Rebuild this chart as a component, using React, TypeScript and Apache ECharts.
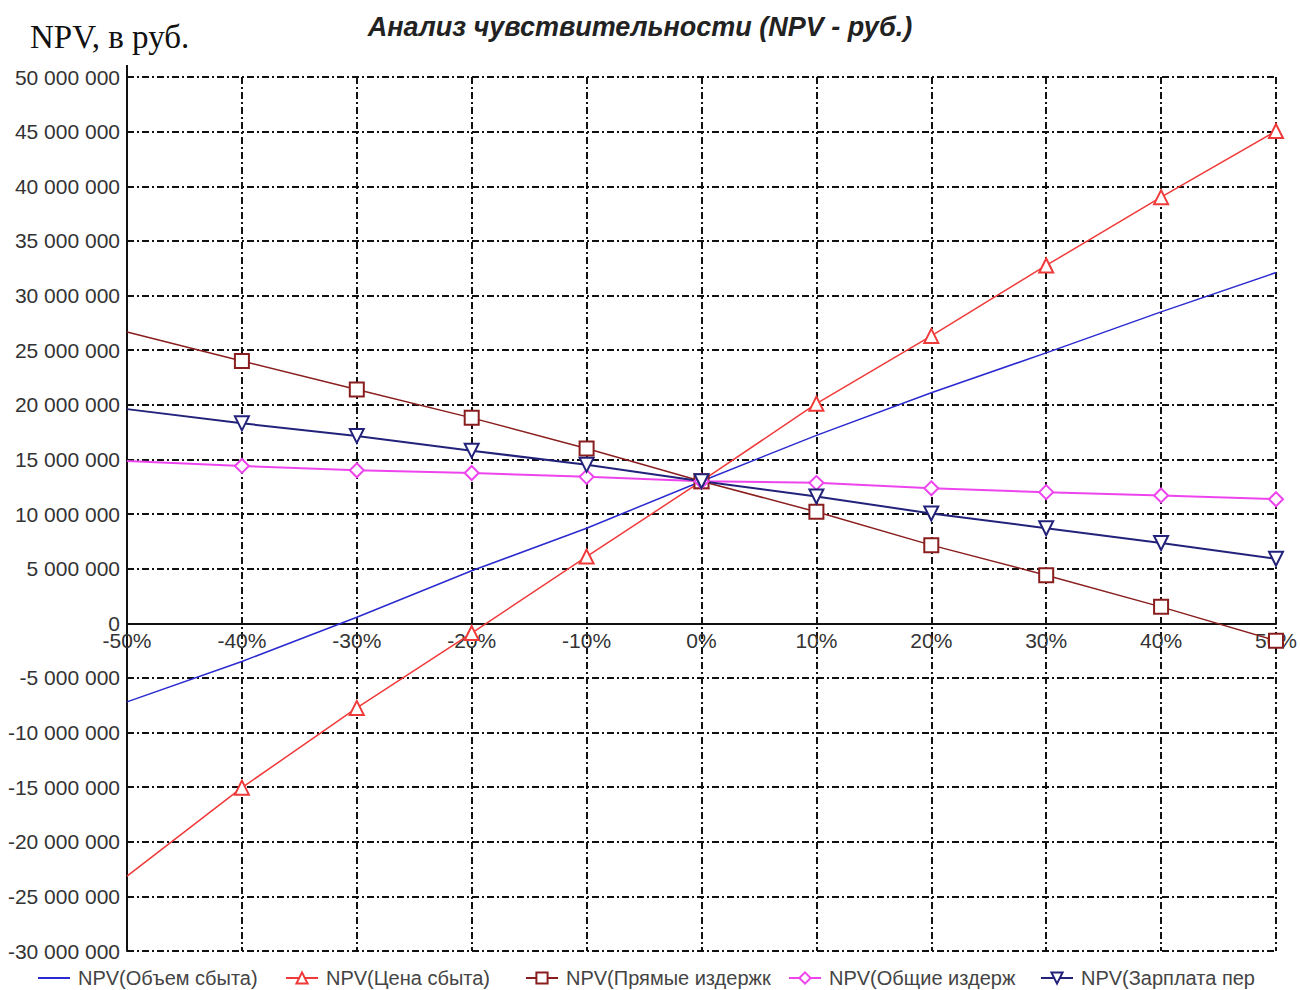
import React, { useEffect, useRef } from "react";
import * as echarts from "echarts";

// Change of the parameter, %
const changes = [-50, -40, -30, -20, -10, 0, 10, 20, 30, 40, 50];

// NPV, rub., for each parameter change
const npvSalesVolume = [-7200000, -3500000, 550000, 4800000, 8700000, 13000000, 17200000, 21100000, 24750000, 28500000, 32100000];
const npvSalesPrice = [-23150000, -15050000, -7750000, -900000, 6100000, 13000000, 20100000, 26300000, 32750000, 39000000, 45050000];
const npvDirectCosts = [26650000, 24000000, 21400000, 18800000, 16000000, 13000000, 10200000, 7150000, 4400000, 1500000, -1600000];
const npvOverheads = [14850000, 14400000, 14000000, 13750000, 13400000, 13000000, 12850000, 12350000, 12000000, 11700000, 11350000];
const npvWages = [19600000, 18300000, 17150000, 15800000, 14500000, 13000000, 11600000, 10050000, 8700000, 7350000, 5900000];

const seriesNames = [
  "NPV(Объем сбыта)",
  "NPV(Цена сбыта)",
  "NPV(Прямые издержк",
  "NPV(Общие издерж",
  "NPV(Зарплата пер",
];

const yTicks = { min: -30000000, max: 50000000, interval: 5000000 };
const xTicks = { min: -50, max: 50, interval: 10 };

// first point of every curve is drawn without a marker
const pairs = (ys: number[]) =>
  changes.map((x, i) => (i === 0 ? { value: [x, ys[i]], symbol: "none" } : { value: [x, ys[i]] }));

const fmtNum = (v: number) => {
  const s = Math.abs(v).toString().replace(/\B(?=(\d{3})+(?!\d))/g, " ");
  return (v < 0 ? "-" : "") + s;
};

const FONT = 'Arial, "Liberation Sans", sans-serif';

const GRID = { left: 127, right: 23, top: 77, bottom: 39 };
const W = 1300;
const H = 990;

export default function App() {
  const ref = useRef<HTMLDivElement>(null);

  useEffect(() => {
    if (!ref.current) return;
    const chart = echarts.init(ref.current, undefined, { renderer: "svg" });

    const lineSeries = (name: string, data: number[], color: string, symbol: string, width: number, rotate = 0) => ({
      name,
      type: "line",
      data: pairs(data),
      symbol,
      symbolSize: 14,
      symbolRotate: rotate,
      showSymbol: symbol !== "none",
      color,
      lineStyle: { color, width },
      itemStyle: { color, borderWidth: 1.5 },
      z: 3,
    });

    // x axis sits on the zero line of the value axis
    const plotH = H - GRID.top - GRID.bottom;
    const zeroY = GRID.top + (plotH * yTicks.max) / (yTicks.max - yTicks.min);
    const xAxisOffset = -(H - GRID.bottom - zeroY);

    const legendPos = [38, 285, 525, 788, 1040];

    chart.setOption({
      animation: false,
      backgroundColor: "#ffffff",
      grid: { ...GRID, containLabel: false },
      xAxis: {
        type: "value",
        position: "bottom",
        offset: xAxisOffset,
        min: xTicks.min,
        max: xTicks.max,
        interval: xTicks.interval,
        axisLine: { onZero: false, lineStyle: { color: "#111", width: 2 } },
        axisTick: { show: false },
        axisLabel: {
          formatter: (v: number) => `${v}%`,
          color: "#333",
          fontFamily: FONT,
          fontSize: 21,
          margin: 7,
        },
        splitLine: {
          show: true,
          lineStyle: { color: "#111", width: 2, type: [7, 3, 2, 3] },
        },
      },
      yAxis: {
        type: "value",
        min: yTicks.min,
        max: yTicks.max,
        interval: yTicks.interval,
        axisLine: { show: true, onZero: false, lineStyle: { color: "#111", width: 2 } },
        axisTick: { show: false },
        axisLabel: {
          formatter: (v: number) => fmtNum(v),
          color: "#333",
          fontFamily: FONT,
          fontSize: 21,
          margin: 7,
        },
        splitLine: {
          show: true,
          lineStyle: { color: "#111", width: 2, type: [7, 3, 2, 3] },
        },
      },
      legend: seriesNames.map((n, i) => ({
        data: i === 0 ? [{ name: n, icon: "rect" }] : [n],
        left: legendPos[i],
        top: 968,
        padding: 0,
        itemWidth: 32,
        itemHeight: i === 0 ? 2 : 14,
        itemGap: 0,
        textStyle: {
          color: "#444",
          fontFamily: FONT,
          fontSize: 20,
          lineHeight: 20,
          height: 20,
          padding: [0, 0, 0, 3],
        },
      })),
      graphic: [
        {
          type: "text",
          left: 30,
          top: 20,
          style: { text: "NPV, в руб.", font: '33px "Liberation Serif", "Times New Roman", serif', fill: "#111" },
        },
        {
          type: "text",
          x: 640,
          y: 27,
          style: {
            text: "Анализ чувствительности (NPV - руб.)",
            font: `italic bold 27px ${FONT}`,
            fill: "#222",
            align: "center",
            verticalAlign: "middle",
          },
        },
        {
          type: "line",
          shape: { x1: 127, y1: 65, x2: 127, y2: 78 },
          style: { stroke: "#111", lineWidth: 2 },
        },
      ],
      series: [
        lineSeries(seriesNames[0], npvSalesVolume, "#2a2ad0", "none", 1.5),
        lineSeries(seriesNames[1], npvSalesPrice, "#f03a3a", "emptyTriangle", 1.5),
        lineSeries(seriesNames[2], npvDirectCosts, "#8a1e1e", "emptyRect", 1.5),
        lineSeries(seriesNames[3], npvOverheads, "#ee44ee", "emptyDiamond", 2),
        lineSeries(seriesNames[4], npvWages, "#22227a", "emptyTriangle", 2, 180),
      ],
    });

    return () => chart.dispose();
  }, []);

  return (
    <div
      ref={ref}
      style={{ position: "fixed", left: 0, top: 0, width: W, height: H, background: "#fff" }}
    />
  );
}
